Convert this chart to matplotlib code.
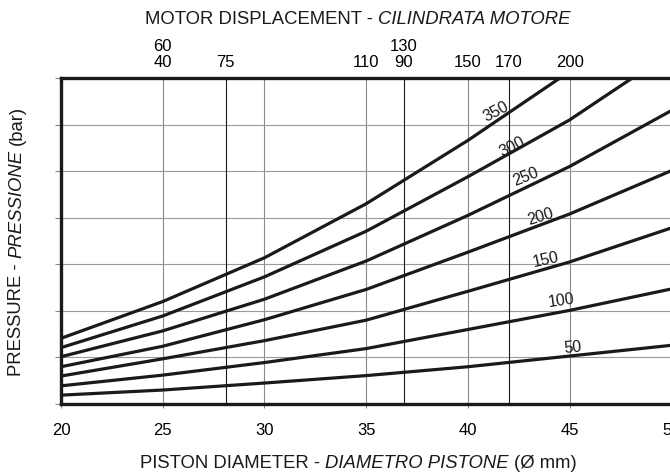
import matplotlib
matplotlib.use("Agg")
import matplotlib.pyplot as plt
import numpy as np

plt.rcParams['font.family'] = ['Liberation Sans', 'DejaVu Sans']

# piston diameter (mm) where the curves were read
diameter = [20, 25, 30, 35, 40, 45, 50]

# curve values (grid units, 0..7) for each pressure in bar
pressures = [350, 300, 250, 200, 150, 100, 50]
curve_350 = [1.41, 2.20, 3.14, 4.30, 5.66, 7.14, 8.80]
curve_300 = [1.21, 1.89, 2.73, 3.71, 4.88, 6.10, 7.56]
curve_250 = [1.015, 1.57, 2.25, 3.07, 4.05, 5.10, 6.30]
curve_200 = [0.80, 1.24, 1.81, 2.46, 3.26, 4.08, 5.01]
curve_150 = [0.60, 0.97, 1.36, 1.80, 2.42, 3.05, 3.78]
curve_100 = [0.39, 0.62, 0.89, 1.19, 1.60, 2.01, 2.47]
curve_50 = [0.19, 0.30, 0.45, 0.61, 0.80, 1.03, 1.26]
curves = [curve_350, curve_300, curve_250, curve_200, curve_150, curve_100, curve_50]

# label positions (diameter, value) and angle of each pressure label
label_x = [41.38, 42.2, 42.86, 43.56, 43.84, 44.6, 45.16]
label_y = [6.27, 5.51, 4.88, 4.02, 3.10, 2.22, 1.20]
label_rot = [28, 27, 22, 17, 12, 8, 5]

# motor displacement scale on top
disp_pos = [25, 28.1, 35, 36.85, 40, 42, 45]
disp_labels = ['60\n40', '75', '110', '130\n90', '150', '170', '200']
disp_dark = [28.1, 36.85, 42]

W, H = 670, 475
fig = plt.figure(figsize=(W / 100, H / 100), dpi=100)
ax = fig.add_axes([61 / W, 71 / H, 609 / W + 0.002, 326 / H])

ax.set_xlim(20, 50)
ax.set_ylim(0, 7)

# grid
for xv in range(20, 51, 5):
    ax.axvline(xv, color='#8a8a8a', lw=0.8, zorder=1)
for yv in range(1, 7):
    ax.axhline(yv, color='#9a9a9a', lw=0.8, zorder=1)
for xv in disp_dark:
    ax.axvline(xv, color='#1a1a1a', lw=0.8, zorder=1)

for p, vals, lx, ly, rot in zip(pressures, curves, label_x, label_y, label_rot):
    ax.plot(diameter, vals, color='#1a1a1a', lw=2.3, zorder=3,
            solid_capstyle='butt', solid_joinstyle='round')
    ax.text(lx, ly, str(p), fontsize=11.5, rotation=rot, ha='center',
            va='center', color='#1a1a1a', zorder=4)

for side in ['left', 'top', 'bottom']:
    ax.spines[side].set_linewidth(2.4)
    ax.spines[side].set_color('#1a1a1a')
ax.spines['right'].set_visible(False)

ax.set_xticks(range(20, 51, 5))
ax.set_xticklabels([str(v) for v in range(20, 51, 5)], fontsize=12)
ax.set_yticks(range(0, 8))
ax.set_yticklabels([])
ax.tick_params(axis='x', length=3, width=0.8, color='#888888', pad=10.5)
ax.tick_params(axis='y', length=4.5, width=0.8, color='#888888')

top = ax.twiny()
top.set_xlim(20, 50)
top.set_xticks(disp_pos)
top.set_xticklabels(disp_labels, fontsize=12, linespacing=1.05)
top.tick_params(axis='x', length=0, pad=6)
for s in top.spines.values():
    s.set_visible(False)


def mixed_text(cx, cy, parts, size, vertical=False):
    """Place text runs (string, style) side by side, centred on (cx, cy) px."""
    r = fig.canvas.get_renderer()
    probe1 = fig.text(0, 0, 'M M', fontsize=size)
    probe2 = fig.text(0, 0, 'MM', fontsize=size)
    gap = probe1.get_window_extent(r).width - probe2.get_window_extent(r).width
    probe1.remove()
    probe2.remove()
    rot = 90 if vertical else 0
    items = []
    for s, st in parts:
        t = fig.text(0, 0, s, fontsize=size, style=st, rotation=rot,
                     color='#1a1a1a')
        bb = t.get_window_extent(r)
        items.append((t, bb.height if vertical else bb.width))
    total = sum(w for _, w in items) + gap * (len(items) - 1)
    pos = (cy if vertical else cx) - total / 2
    for t, w in items:
        if vertical:
            t.set_position((cx / W, pos / H))
            t.set_ha('center')
            t.set_va('bottom')
        else:
            t.set_position((pos / W, cy / H))
            t.set_ha('left')
            t.set_va('center')
        pos += w + gap


mixed_text(358, H - 20, [('MOTOR DISPLACEMENT -', 'normal'),
                         ('CILINDRATA MOTORE', 'italic')], 13.3)
mixed_text(358, H - 463, [('PISTON DIAMETER -', 'normal'),
                          ('DIAMETRO PISTONE', 'italic'),
                          ('(Ø mm)', 'normal')], 13.3)
mixed_text(17, H - 241, [('PRESSURE -', 'normal'),
                         ('PRESSIONE', 'italic'),
                         ('(bar)', 'normal')], 13.3, vertical=True)

fig.savefig('out.png', dpi=100, facecolor='white')
